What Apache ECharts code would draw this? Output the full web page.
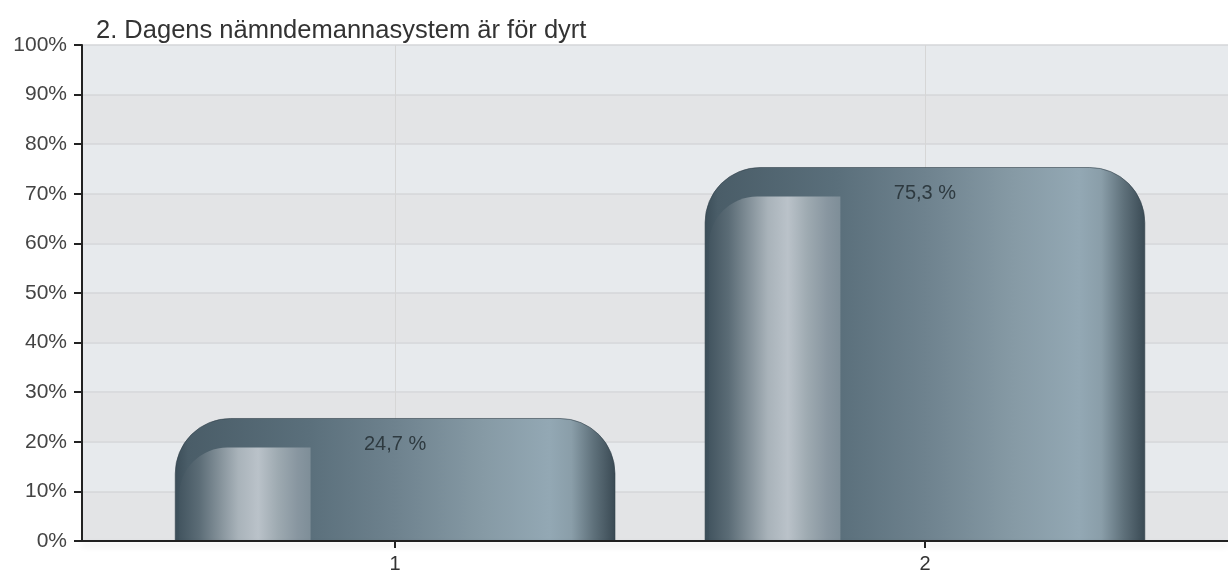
<!DOCTYPE html>
<html>
<head>
<meta charset="utf-8">
<script src="https://cdn.jsdelivr.net/npm/echarts@6/dist/echarts.min.js"></script>
<style>
  html, body { margin: 0; padding: 0; background: #fff; }
  #chart { width: 1228px; height: 577px; }
</style>
</head>
<body>
<div id="chart"></div>
<script>
const title = '2. Dagens nämndemannasystem är för dyrt';
const categories = [1, 2];
const values = [24.7, 75.3];
const yTicks = [0, 10, 20, 30, 40, 50, 60, 70, 80, 90, 100];

const FONT = '"Liberation Sans", Arial, sans-serif';

// horizontal shading of the rounded bar body
const bodyFill = new echarts.graphic.LinearGradient(0, 0, 1, 0, [
  { offset: 0, color: '#3b4d58' },
  { offset: 0.03, color: '#4a5d68' },
  { offset: 0.3, color: '#5a6f7b' },
  { offset: 0.5, color: '#6e828e' },
  { offset: 0.7, color: '#869aa5' },
  { offset: 0.85, color: '#93a8b4' },
  { offset: 0.9, color: '#8a9ea9' },
  { offset: 0.95, color: '#5f717b' },
  { offset: 1, color: '#394953' }
]);
// glossy strip on the left side
const glossFill = new echarts.graphic.LinearGradient(0, 0, 1, 0, [
  { offset: 0, color: '#435560' },
  { offset: 0.15, color: '#5b6c76' },
  { offset: 0.45, color: '#a9b3ba' },
  { offset: 0.6, color: '#bac2c9' },
  { offset: 0.75, color: '#9eaab1' },
  { offset: 0.9, color: '#8896a0' },
  { offset: 1, color: '#7e8e98' }
]);

function renderBar(params, api) {
  const cat = api.value(0);
  const val = api.value(1);
  const top = api.coord([cat, val]);
  const base = api.coord([cat, 0]);
  const w = api.size([1, 0])[0] * 0.83;
  const x = top[0] - w / 2;
  const h = base[1] - top[1];
  const r = Math.min(55, h);
  const gx = x + 4, gy = top[1] + 29, gw = w * 0.31 - 5, gh = Math.max(0, h - 29);
  return {
    type: 'group',
    children: [
      {
        type: 'rect',
        shape: { x: x, y: top[1], width: w, height: h, r: [r, r, 0, 0] },
        style: { fill: bodyFill, stroke: 'rgba(50,65,75,0.6)', lineWidth: 1 }
      },
      {
        type: 'rect',
        shape: { x: gx, y: gy, width: gw, height: gh, r: [Math.min(48, gh), 0, 0, 0] },
        style: { fill: glossFill }
      },
      {
        type: 'text',
        x: top[0],
        y: top[1] + 26,
        style: {
          text: val.toFixed(1).replace('.', ',') + ' %',
          fill: '#2e3a40',
          font: '20px ' + FONT,
          align: 'center',
          verticalAlign: 'middle'
        }
      }
    ]
  };
}

const chart = echarts.init(document.getElementById('chart'));
chart.setOption({
  animation: false,
  backgroundColor: '#fff',
  title: {
    text: title,
    left: 91,
    top: 13,
    textStyle: { fontFamily: FONT, fontSize: 25.5, fontWeight: 'normal', color: '#333' }
  },
  grid: { left: 82, right: 0, top: 45, bottom: 36 },
  xAxis: [
    {
      type: 'value',
      z: 6,
      min: 0.409,
      max: 2.572,
      axisLine: {
        show: true,
        onZero: false,
        lineStyle: { color: '#222', width: 2, shadowColor: 'rgba(0,0,0,0.12)', shadowBlur: 6, shadowOffsetY: 4 }
      },
      axisTick: { show: true, customValues: categories, length: 7, lineStyle: { color: '#222', width: 2 } },
      axisLabel: { customValues: categories, color: '#333', fontFamily: FONT, fontSize: 20, margin: 13 },
      splitLine: { show: false }
    },
    {
      type: 'value',
      z: 3,
      position: 'top',
      min: 0.409,
      max: 2.572,
      axisLine: { show: true, lineStyle: { color: '#9a9a9a', width: 2 } },
      axisTick: { show: false },
      axisLabel: { show: false },
      splitLine: { show: false }
    }
  ],
  yAxis: {
    type: 'value',
    z: 4,
    min: 0,
    max: 100,
    interval: 10,
    axisLine: { show: true, lineStyle: { color: '#222', width: 2 } },
    axisTick: { show: true, length: 8, lineStyle: { color: '#222', width: 2 } },
    axisLabel: {
      formatter: v => (yTicks.includes(v) ? v + '%' : ''),
      color: '#444',
      fontFamily: FONT,
      fontSize: 21,
      margin: 15
    },
    splitLine: { show: true, lineStyle: { color: '#d4d6d8', width: 1.5 } },
    splitArea: { show: true, areaStyle: { color: ['#e3e4e6', '#e7eaed'] } }
  },
  series: [
    {
      type: 'line',
      data: [],
      z: 1,
      markLine: {
        silent: true,
        symbol: 'none',
        label: { show: false },
        lineStyle: { color: '#d6d6d6', type: 'solid', width: 1 },
        data: categories.map(c => ({ xAxis: c }))
      }
    },
    {
      type: 'custom',
      z: 5,
      renderItem: renderBar,
      data: categories.map((c, i) => [c, values[i]])
    }
  ]
});
</script>
</body>
</html>
